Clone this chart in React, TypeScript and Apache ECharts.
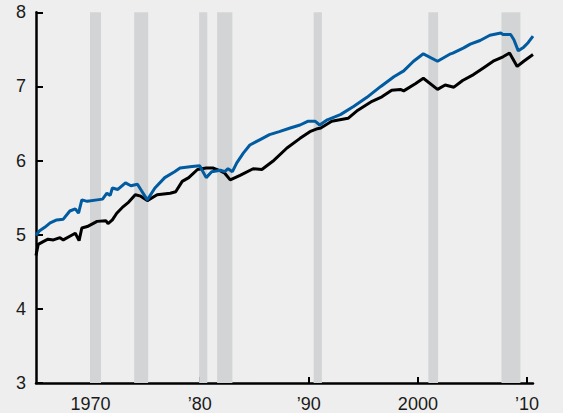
import React, { useEffect, useRef } from "react";
import * as echarts from "echarts";

const blueYears = [1965.0, 1965.3, 1965.8, 1966.3, 1966.9, 1967.5, 1968.1, 1968.6, 1968.9, 1969.2, 1969.7, 1970.6, 1971.1, 1971.5, 1971.8, 1972.0, 1972.5, 1973.2, 1973.7, 1974.3, 1974.6, 1975.2, 1975.9, 1976.8, 1977.7, 1978.2, 1979.3, 1980.0, 1980.6, 1981.1, 1981.9, 1982.3, 1982.6, 1983.0, 1983.4, 1984.0, 1984.6, 1985.5, 1986.4, 1987.3, 1988.3, 1989.2, 1989.9, 1990.6, 1991.0, 1991.7, 1992.9, 1994.1, 1995.3, 1996.6, 1997.8, 1998.7, 1999.6, 2000.5, 2001.8, 2003.0, 2003.2, 2004.2, 2004.8, 2005.7, 2006.6, 2007.6, 2007.8, 2008.5, 2008.8, 2009.2, 2009.7, 2010.1, 2010.55];
const blueValues = [4.99, 5.05, 5.10, 5.16, 5.20, 5.21, 5.32, 5.35, 5.29, 5.47, 5.45, 5.47, 5.48, 5.56, 5.53, 5.63, 5.61, 5.70, 5.66, 5.68, 5.61, 5.47, 5.63, 5.77, 5.85, 5.90, 5.92, 5.93, 5.77, 5.85, 5.87, 5.85, 5.89, 5.85, 5.97, 6.10, 6.21, 6.28, 6.35, 6.39, 6.44, 6.48, 6.53, 6.53, 6.48, 6.55, 6.62, 6.73, 6.85, 7.00, 7.13, 7.21, 7.34, 7.44, 7.34, 7.44, 7.45, 7.52, 7.57, 7.62, 7.69, 7.72, 7.70, 7.70, 7.63, 7.48, 7.53, 7.59, 7.68];

const blackYears = [1965.0, 1965.2, 1965.7, 1966.1, 1966.6, 1967.2, 1967.5, 1968.1, 1968.6, 1968.95, 1969.2, 1969.7, 1970.6, 1971.4, 1971.6, 1972.0, 1972.4, 1973.0, 1973.5, 1974.1, 1974.6, 1975.2, 1976.1, 1977.3, 1977.8, 1978.4, 1979.0, 1979.8, 1980.6, 1981.2, 1981.9, 1982.3, 1982.8, 1983.7, 1984.9, 1985.7, 1986.7, 1988.0, 1989.2, 1990.1, 1990.8, 1991.1, 1992.1, 1993.6, 1994.5, 1995.8, 1996.7, 1997.6, 1998.4, 1998.7, 1999.8, 2000.5, 2001.8, 2002.5, 2003.3, 2004.1, 2005.1, 2006.0, 2006.9, 2007.8, 2008.4, 2009.1, 2009.7, 2010.55];
const blackValues = [4.72, 4.87, 4.91, 4.94, 4.93, 4.96, 4.93, 4.98, 5.02, 4.92, 5.09, 5.11, 5.18, 5.19, 5.15, 5.20, 5.29, 5.38, 5.44, 5.54, 5.52, 5.46, 5.54, 5.56, 5.58, 5.72, 5.77, 5.88, 5.90, 5.90, 5.86, 5.83, 5.74, 5.80, 5.89, 5.88, 5.99, 6.17, 6.30, 6.39, 6.43, 6.44, 6.53, 6.57, 6.68, 6.80, 6.86, 6.95, 6.96, 6.94, 7.04, 7.11, 6.96, 7.02, 6.99, 7.08, 7.16, 7.25, 7.34, 7.40, 7.45, 7.27, 7.34, 7.43];

const recessionStart = [1969.95, 1974.0, 1979.95, 1981.6, 1990.45, 2000.96, 2007.66];
const recessionEnd = [1970.96, 1975.28, 1980.7, 1983.0, 1991.2, 2001.85, 2009.4];

const xTickValues = [1970, 1980, 1990, 2000, 2010];
const xTickLabels = ["1970", "\u201980", "\u201990", "2000", "\u201910"];
const yMin = 3;
const yMax = 8;

const FONT = "'Liberation Sans', Arial, Helvetica, sans-serif";

export default function App() {
  const ref = useRef<HTMLDivElement>(null);
  useEffect(() => {
    if (!ref.current) return;
    const chart = echarts.init(ref.current, undefined, { renderer: "svg" });
    const blueData = blueYears.map((y, i) => [y, blueValues[i]]);
    const blackData = blackYears.map((y, i) => [y, blackValues[i]]);
    const areas = recessionStart.map((s, i) => [{ xAxis: s }, { xAxis: recessionEnd[i] }]);
    chart.setOption({
      animation: false,
      backgroundColor: "#eeeeee",
      textStyle: { fontFamily: FONT },
      grid: { left: 36, right: 30, top: 12.3, bottom: 29.2 },
      xAxis: {
        type: "value",
        min: 1965,
        max: 2010.55,
        splitLine: { show: false },
        axisLine: { show: true, lineStyle: { color: "#000", width: 2.5 } },
        axisTick: {
          show: true,
          inside: true,
          length: 6,
          lineStyle: { color: "#000", width: 2 },
          customValues: xTickValues,
        },
        axisLabel: {
          customValues: xTickValues,
          formatter: (v: number) => {
            const idx = xTickValues.indexOf(Math.round(v));
            return idx >= 0 ? xTickLabels[idx] : "";
          },
          fontSize: 18,
          color: "#1a1a1a",
          fontFamily: FONT,
          margin: 12,
        },
      },
      yAxis: {
        type: "value",
        min: yMin,
        max: yMax,
        interval: 1,
        splitLine: { show: false },
        axisLine: { show: true, lineStyle: { color: "#000", width: 2.5 } },
        axisTick: { show: true, inside: true, length: 7, lineStyle: { color: "#000", width: 2 } },
        axisLabel: { fontSize: 18, color: "#1a1a1a", fontFamily: FONT, margin: 10 },
      },
      series: [
        {
          type: "line",
          data: [],
          z: 1,
          silent: true,
          markArea: {
            silent: true,
            itemStyle: { color: "#d3d4d6" },
            data: areas,
          },
        },
        {
          type: "line",
          data: blackData,
          showSymbol: false,
          z: 3,
          lineStyle: { color: "#000000", width: 3 },
        },
        {
          type: "line",
          data: blueData,
          showSymbol: false,
          z: 4,
          lineStyle: { color: "#005ba0", width: 3 },
        },
      ],
    });
    return () => chart.dispose();
  }, []);
  return (
    <div
      ref={ref}
      style={{ position: "fixed", left: 0, top: 0, width: 563, height: 413 }}
    />
  );
}
